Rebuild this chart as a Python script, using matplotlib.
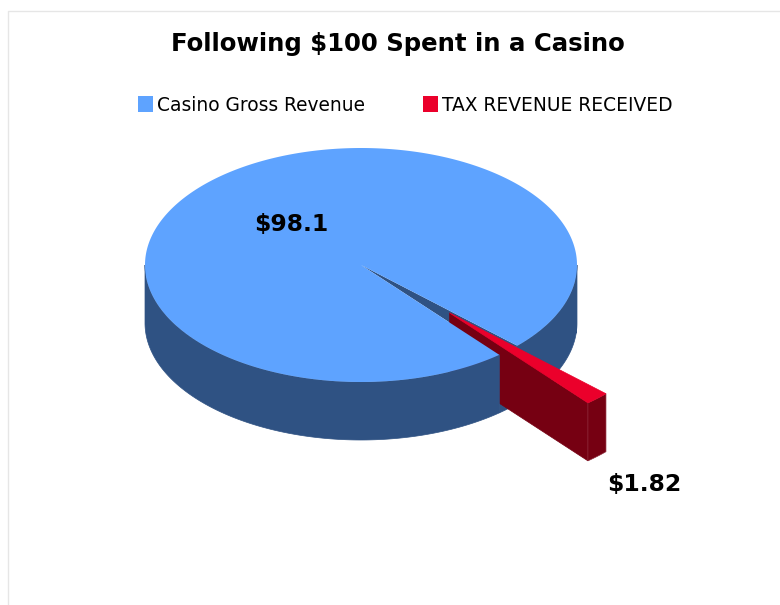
import numpy as np
import matplotlib
matplotlib.use('Agg')
import matplotlib.pyplot as plt
from matplotlib.patches import Polygon, Rectangle

title = 'Following $100 Spent in a Casino'
categories = ['Casino Gross Revenue', 'TAX REVENUE RECEIVED']
values = [98.18, 1.82]
value_labels = ['$98.1', '$1.82']

BLUE, BLUE_DARK = '#5EA3FF', '#2F5283'
RED, RED_DARK = '#EB002B', '#760012'

# pie geometry, in pixels of the picture
CX, CY, RX, RY, DEPTH = 361, 265, 216, 117, 58
SLICE_MID = -46.9
EXPLODE = 0.58
EXPLODE_DIR = -45.0


def to_px(r, deg, dx=0.0, dy=0.0, drop=0.0):
    a = np.radians(deg)
    return np.column_stack((CX + dx + RX * r * np.cos(a), CY + dy - RY * r * np.sin(a) + drop))


def arc(a0, a1, dx=0.0, dy=0.0, drop=0.0):
    n = max(int(abs(a1 - a0)) * 2, 2)
    return to_px(1.0, np.linspace(a0, a1, n), dx, dy, drop)


def side(a0, a1, dx=0.0, dy=0.0):
    # outer wall of the cylinder between two angles
    return np.vstack((arc(a0, a1, dx, dy), arc(a1, a0, dx, dy, DEPTH)))


def add(ax, pts, color, z, edge=None, lw=0.5):
    ax.add_patch(Polygon(pts, closed=True, facecolor=color, edgecolor=edge or color, linewidth=lw, zorder=z))


def main():
    fig = plt.figure(figsize=(7.8, 6.05), dpi=100)
    ax = fig.add_axes([0, 0, 1, 1])
    ax.set_xlim(0, 780)
    ax.set_ylim(605, 0)
    ax.axis('off')

    # page frame
    ax.plot([7.5, 7.5, 780], [605, 10.5, 10.5], color='#E6E6E6', lw=1)

    sweep = 360.0 * values[1] / sum(values)
    a_top = SLICE_MID + sweep / 2
    a_low = SLICE_MID - sweep / 2
    dx = RX * EXPLODE * np.cos(np.radians(EXPLODE_DIR))
    dy = -RY * EXPLODE * np.sin(np.radians(EXPLODE_DIR))
    centre = np.array([[CX, CY]])
    tip = np.array([[CX + dx, CY + dy]])

    # wall behind the exploded slice, with the inside of the notch
    add(ax, side(a_low, -5), BLUE_DARK, 1)
    add(ax, np.vstack((centre, arc(a_top, a_low))), BLUE_DARK, 1, lw=0)

    # exploded slice
    low_edge = np.vstack((tip, to_px(1.0, a_low, dx, dy), to_px(1.0, a_low, dx, dy, DEPTH), tip + [0, DEPTH]))
    add(ax, low_edge, RED_DARK, 2)
    add(ax, side(a_low, a_top, dx, dy), RED_DARK, 2, edge='#8E2A3A')
    add(ax, np.vstack((tip, arc(a_low, a_top, dx, dy))), RED, 3)

    # rest of the cylinder covers the slice's left part
    add(ax, side(a_low, -180), BLUE_DARK, 4)
    add(ax, side(0, -5), BLUE_DARK, 4)
    add(ax, np.vstack((centre, arc(a_top, 360 + a_low))), BLUE, 5, lw=0)

    ax.text(398, 44, title, ha='center', va='center', fontsize=17.6, fontweight='bold', color='black', zorder=6)

    # legend
    keys = [(138, BLUE), (423, RED)]
    for (x, col), name in zip(keys, categories):
        ax.add_patch(Rectangle((x, 96), 15, 16, facecolor=col, edgecolor='none'))
        ax.text(x + 19, 105.5, name, ha='left', va='center', fontsize=13.4, color='black', zorder=6)

    ax.text(291.5, 224, value_labels[0], ha='center', va='center', fontsize=16.9, fontweight='bold', zorder=6)
    ax.text(644.5, 484, value_labels[1], ha='center', va='center', fontsize=16.9, fontweight='bold', zorder=6)

    fig.savefig('out.png', dpi=100, facecolor='white')


if __name__ == '__main__':
    main()
